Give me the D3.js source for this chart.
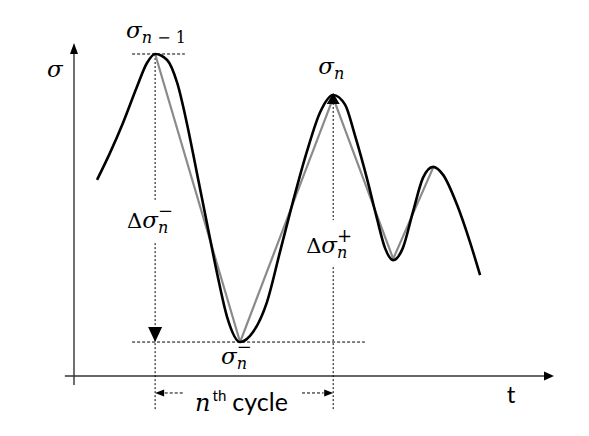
<!DOCTYPE html>
<html>
<head>
<meta charset="utf-8">
<script src="https://cdn.jsdelivr.net/npm/d3@7"></script>
<style>
body { margin: 0; background: #fff; }
svg { display: block; }
</style>
</head>
<body>
<svg id="main" width="589" height="436"></svg>
<script>
// stress history (t and sigma in arbitrary units)
var curveT = [0.48, 0.75, 1.02, 1.31, 1.52, 1.69, 1.94, 2.15, 2.35, 2.56, 2.77, 2.98, 3.19, 3.46,
  3.73, 4.02, 4.29, 4.56, 4.85, 5.13, 5.40, 5.65, 5.85, 6.10, 6.31, 6.48, 6.65,
  6.85, 7.06, 7.27, 7.48, 7.69, 7.98, 8.25, 8.46];
var curveS = [5.89, 6.70, 7.60, 8.68, 9.40, 9.67, 9.49, 8.80, 7.60, 6.10, 4.59, 3.09, 1.77, 1.02,
  1.32, 2.22, 3.72, 5.23, 6.73, 7.93, 8.44, 8.14, 7.24, 5.95, 4.74, 3.84, 3.48,
  3.84, 4.92, 5.95, 6.28, 6.04, 5.14, 4.02, 3.03];

// turning points joined by straight lines (grey)
var turnT = [1.69, 3.46, 5.40, 6.65, 7.48];
var turnS = [9.67, 1.02, 8.35, 3.52, 6.25];

// axes extents
var axisT = [-0.19, 10];
var axisS = [-0.27, 10];

// guides
var prevPeak = {t: 1.69, s: 9.67};
var curPeak = {t: 5.40, s: 8.44};
var trough = {t: 3.46, s: 1.02};
var guideBottom = -1.02;
var cycleRow = -0.51;

window.onload = function() {
var svg = d3.select("#main");
var x = d3.scaleLinear().domain([0, 10]).range([74, 554]);
var y = d3.scaleLinear().domain([0, 10]).range([376, 43]);

var mathFont = "'DejaVu Serif', 'Liberation Serif', serif";
var sansFont = "Lato, 'Open Sans', sans-serif";

var hline = function(t0, t1, s, dash) {
	svg.append("line")
		.attr("x1", x(t0)).attr("x2", x(t1))
		.attr("y1", y(s)).attr("y2", y(s))
		.attr("stroke", "#000").attr("stroke-width", 1)
		.attr("stroke-dasharray", dash);
};
var vline = function(t, s0, s1, dash) {
	svg.append("line")
		.attr("x1", x(t)).attr("x2", x(t))
		.attr("y1", y(s0)).attr("y2", y(s1))
		.attr("stroke", "#000").attr("stroke-width", 1)
		.attr("stroke-dasharray", dash);
};
// triangle with its tip at (px,py), pointing dir, length len, half width hw
var tri = function(px, py, dir, len, hw, color) {
	var pts;
	if (dir == "up") pts = [[px, py], [px - hw, py + len], [px + hw, py + len]];
	if (dir == "down") pts = [[px, py], [px - hw, py - len], [px + hw, py - len]];
	if (dir == "left") pts = [[px, py], [px + len, py - hw], [px + len, py + hw]];
	if (dir == "right") pts = [[px, py], [px - len, py - hw], [px - len, py + hw]];
	svg.append("polygon")
		.attr("points", pts.map(function(p){ return p.join(","); }).join(" "))
		.attr("fill", color);
};

// axes
svg.append("line")
	.attr("x1", x(axisT[0])).attr("x2", x(axisT[1]) - 6)
	.attr("y1", y(0)).attr("y2", y(0))
	.attr("stroke", "#333").attr("stroke-width", 1.4);
svg.append("line")
	.attr("x1", x(0)).attr("x2", x(0))
	.attr("y1", y(axisS[0])).attr("y2", y(axisS[1]) + 6)
	.attr("stroke", "#333").attr("stroke-width", 1.4);
tri(x(axisT[1]), y(0), "right", 10, 4.5, "#000");
tri(x(0), y(axisS[1]), "up", 11, 4, "#000");

// dashed guides
hline(prevPeak.t - 0.48, prevPeak.t + 0.62, prevPeak.s, "3,2");
hline(prevPeak.t - 0.48, 6.06, trough.s, "3,2");
vline(prevPeak.t, prevPeak.s, 5.29, "2,2");
vline(prevPeak.t, 3.99, guideBottom, "2,2");
vline(curPeak.t, curPeak.s, 4.68, "2,2");
vline(curPeak.t, 3.27, guideBottom, "2,2");
hline(prevPeak.t + 0.2, 2.27, cycleRow, "3,2");
hline(4.75, curPeak.t - 0.2, cycleRow, "3,2");

// grey straight segments
var grey = d3.line().x(function(d){ return x(d[0]); }).y(function(d){ return y(d[1]); });
svg.append("path")
	.attr("d", grey(d3.zip(turnT, turnS)))
	.attr("fill", "none").attr("stroke", "#8a8a8a").attr("stroke-width", 2.2)
	.attr("stroke-linejoin", "round");

// black stress curve
var smooth = d3.line().curve(d3.curveMonotoneX)
	.x(function(d){ return x(d[0]); }).y(function(d){ return y(d[1]); });
svg.append("path")
	.attr("d", smooth(d3.zip(curveT, curveS)))
	.attr("fill", "none").attr("stroke", "#000").attr("stroke-width", 2.6)
	.attr("stroke-linejoin", "round");

// arrow heads on the guides
tri(x(prevPeak.t), y(trough.s), "down", 15, 7, "#000");
tri(x(curPeak.t), y(curPeak.s) - 2, "up", 11, 6.5, "#000");
tri(x(prevPeak.t), y(cycleRow), "left", 9, 3.5, "#000");
tri(x(curPeak.t), y(cycleRow), "right", 9, 3.5, "#000");

// math label in one text: optional upright prefix, italic base, stacked sub / sup
var mathLabel = function(lx, ly, pre, base, sub, sup) {
	var t = svg.append("text").attr("x", lx).attr("y", ly)
		.attr("font-family", mathFont).attr("font-size", 23).attr("fill", "#000");
	if (pre) t.append("tspan").attr("font-size", 21).text(pre);
	t.append("tspan").attr("font-style", "italic").text(base);
	var subW = 0;
	if (sub) {
		sub.forEach(function(p, i){
			var ts = t.append("tspan").attr("font-size", 16)
				.attr("font-style", p[1] ? "italic" : "normal")
				.text(p[0]);
			if (i == 0) ts.attr("dy", 5);
			subW += ts.node().getComputedTextLength();
		});
	}
	if (sup) {
		t.append("tspan").attr("font-size", 18)
			.attr("dx", -subW).attr("dy", sub ? -16 : -11)
			.text(sup);
	}
};

mathLabel(x(0) - 27, y(0) - 299, null, "σ", null, null);
mathLabel(x(prevPeak.t) - 29, y(prevPeak.s) - 16, null, "σ", [["n", true], [" − ", false], ["1", false]], null);
mathLabel(x(curPeak.t) - 15, y(curPeak.s) - 21, null, "σ", [["n", true]], null);
mathLabel(x(trough.t) - 19, y(trough.s) + 22, null, "σ", [["n", true]], "−");
mathLabel(x(prevPeak.t) - 28, y(4.45), "Δ", "σ", [["n", true]], "−");
mathLabel(x(curPeak.t) - 27, y(3.69), "Δ", "σ", [["n", true]], "+");

// time axis label
svg.append("text")
	.attr("x", x(axisT[1]) - 43).attr("y", y(0) + 27)
	.attr("text-anchor", "middle")
	.attr("font-family", sansFont).attr("font-size", 24).attr("fill", "#000")
	.text("t");

// n-th cycle label
var cy = y(cycleRow) + 18;
var cyc = svg.append("text").attr("x", x(prevPeak.t) + 40).attr("y", cy)
	.attr("font-family", sansFont).attr("font-size", 25).attr("fill", "#000");
cyc.append("tspan").attr("font-family", mathFont).attr("font-size", 24)
	.attr("font-style", "italic").text("n");
cyc.append("tspan").attr("font-size", 15).attr("dx", 2).attr("dy", -10).text("th");
cyc.append("tspan").attr("dx", 6).attr("dy", 10).text("cycle");
}
</script>
</body>
</html>
